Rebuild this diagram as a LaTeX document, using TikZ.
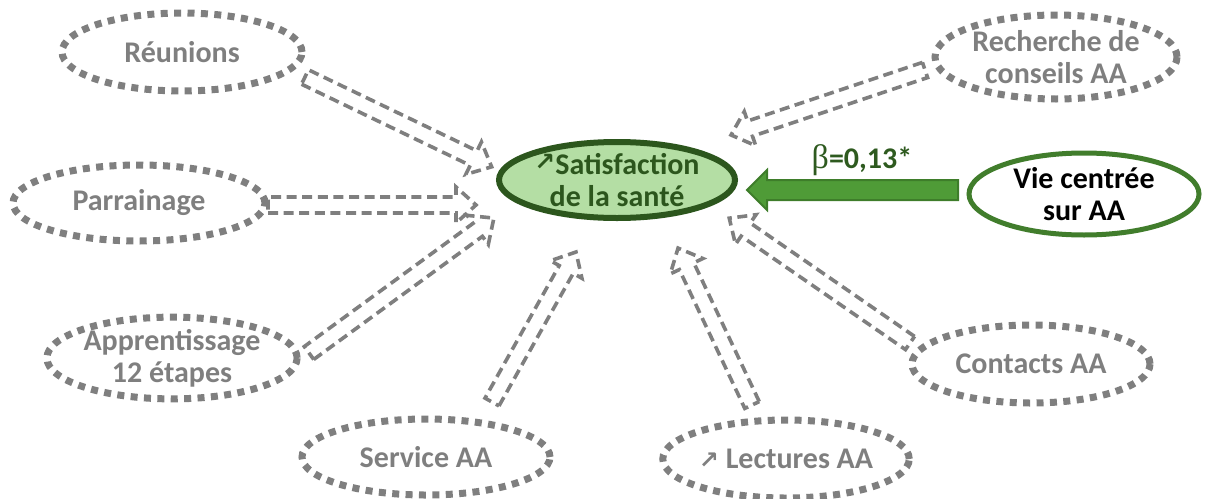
\documentclass[tikz,border=0pt]{standalone}
\usepackage{fontspec}
\setmainfont{Carlito}
\newfontfamily\symfont{DejaVu Sans}
\newfontfamily\grkfont{Liberation Serif}
\usetikzlibrary{shapes.geometric,calc}
\definecolor{gtext}{HTML}{7F7F7F}
\definecolor{satfill}{HTML}{B4DEA4}
\definecolor{satline}{HTML}{2C561D}
\definecolor{dgreen}{HTML}{2E5A1F}
\definecolor{arrfill}{HTML}{4F9B37}
\definecolor{arrline}{HTML}{3E7D2A}
\definecolor{vieline}{HTML}{417D2C}
\newcommand\blockarr[6]{%
  \draw[#1] let \p1=(#2), \p2=(#3), \n1={atan2(\y2-\y1,\x2-\x1)}, \n2={veclen(\x2-\x1,\y2-\y1)} in
   [shift={(\p1)}, rotate=\n1]
   (0pt,-#4) -- ({\n2*1pt-#6},-#4) -- ({\n2*1pt-#6},-#5) -- ({\n2*1pt},0pt) -- ({\n2*1pt-#6},#5) -- ({\n2*1pt-#6},#4) -- (0pt,#4) -- cycle;}
\tikzset{
  txt/.style={font=\fontsize{15}{16}\selectfont\bfseries, align=center},
  dotell/.style={ellipse, draw=gtext, line width=3.5pt, dash pattern=on 3.5pt off 3.2pt, inner sep=0pt, text=gtext, txt},
  hollow/.style={draw=gtext, line width=1.8pt, dash pattern=on 5pt off 2.8pt, line join=miter},
  solidarr/.style={fill=arrfill, draw=arrline, line width=1pt},
}
\begin{document}
\begin{tikzpicture}[x=0.5pt,y=-0.5pt]
\useasboundingbox (0,0) rectangle (1208,498);
% outer nodes
\node[dotell, minimum width=120pt, minimum height=39pt] (reu) at (182,52) {Réunions};
\node[dotell, minimum width=126pt, minimum height=38pt] (par) at (139,203) {Parrainage};
\node[dotell, minimum width=124pt, minimum height=38pt] (app) at (172,358) {Apprentissage\\12 étapes};
\node[dotell, minimum width=124pt, minimum height=38pt] (ser) at (426,457) {Service AA};
\node[dotell, minimum width=121pt, minimum height=39pt] (lec) at (786,459) {{\symfont\fontsize{12}{12}\selectfont ↗} Lectures AA};
\node[dotell, minimum width=119pt, minimum height=39pt] (con) at (1031,364) {Contacts AA};
\node[dotell, minimum width=121pt, minimum height=42pt] (rec) at (1056,57) {Recherche de\\conseils AA};
% centre
\node[ellipse, draw=satline, fill=satfill, line width=3pt, inner sep=0pt, minimum width=118pt, minimum height=38pt, text=satline, txt] (sat) at (617,180) {{\symfont\fontsize{12.5}{12}\selectfont\raisebox{2pt}{↗}}Satisfaction\\de la santé};
\node[ellipse, draw=vieline, line width=2.5pt, inner sep=0pt, minimum width=115pt, minimum height=41pt, text=black, txt] (vie) at (1084,194) {Vie centrée\\sur AA};
% connector ends
\coordinate (reuA) at (305,77);   \coordinate (reuB) at (492,167);
\coordinate (parA) at (268,205);  \coordinate (parB) at (476,205);
\coordinate (appA) at (309,353);  \coordinate (appB) at (494,218);
\coordinate (serA) at (492,402);  \coordinate (serB) at (576,252);
\coordinate (lecA) at (752,405);  \coordinate (lecB) at (678,248);
\coordinate (conA) at (910,343);  \coordinate (conB) at (729,218);
\coordinate (recA) at (925,70);   \coordinate (recB) at (731,135);
\coordinate (vieA) at (958,190);  \coordinate (vieB) at (747,190);
\blockarr{hollow}{reuA}{reuB}{4pt}{9pt}{10pt}
\blockarr{hollow}{parA}{parB}{4pt}{9pt}{10pt}
\blockarr{hollow}{appA}{appB}{4pt}{9pt}{10pt}
\blockarr{hollow}{serA}{serB}{4pt}{9pt}{10pt}
\blockarr{hollow}{lecA}{lecB}{4pt}{9pt}{10pt}
\blockarr{hollow}{conA}{conB}{4pt}{9pt}{10pt}
\blockarr{hollow}{recA}{recB}{4pt}{9pt}{10pt}
\blockarr{solidarr}{vieA}{vieB}{5pt}{10pt}{10pt}
\node[txt, text=dgreen, inner sep=0pt] (beta) at (862,160) {{\grkfont\mdseries\fontsize{17}{17}\selectfont β}=0,13*};
\end{tikzpicture}
\end{document}
